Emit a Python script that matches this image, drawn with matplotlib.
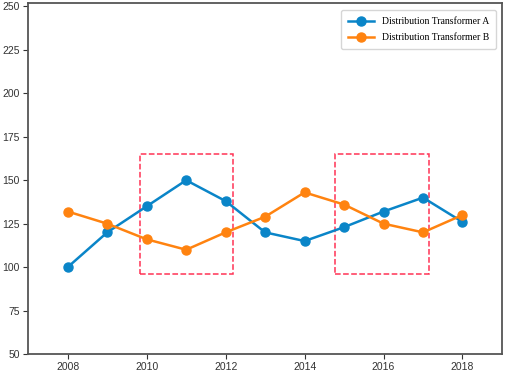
import matplotlib
matplotlib.use("Agg")
import matplotlib.pyplot as plt
from matplotlib.patches import Rectangle

years = [2008, 2009, 2010, 2011, 2012, 2013, 2014, 2015, 2016, 2017, 2018]
trans_a = [100, 120, 135, 150, 138, 120, 115, 123, 132, 140, 126]
trans_b = [132, 125, 116, 110, 120, 129, 143, 136, 125, 120, 130]
# highlighted windows: (x start, x end, y low, y high)
boxes = [(2009.84, 2012.19, 95.8, 165), (2014.77, 2017.15, 95.8, 165)]

fig = plt.figure(figsize=(5.05, 3.75), dpi=100)
ax = fig.add_axes([0.056, 0.056, 0.938, 0.936])

ax.plot(years, trans_a, '-o', color='#0a85c8', lw=1.8, ms=6.5, label="Distribution Transformer A")
ax.plot(years, trans_b, '-o', color='#ff8310', lw=1.8, ms=6.5, label="Distribution Transformer B")

for x0, x1, y0, y1 in boxes:
    ax.add_patch(Rectangle((x0, y0), x1 - x0, y1 - y0, fill=False,
                           ec='#ff3355', ls='--', lw=1.1))

ax.set_xlim(2007, 2019)
ax.set_ylim(50, 252)
ax.set_xticks(range(2008, 2019, 2))
ax.set_yticks(range(50, 251, 25))
ax.tick_params(labelsize=7.5, colors='#333333', length=3.5, pad=2.5)
for lab in ax.get_xticklabels() + ax.get_yticklabels():
    lab.set_family('Liberation Sans')
for s in ax.spines.values():
    s.set_color('#555555')
    s.set_linewidth(1.3)

ax.legend(loc='upper right', prop={'family': 'Liberation Serif', 'size': 7},
          borderpad=0.7, labelspacing=0.75, handlelength=2.7,
          bbox_to_anchor=(0.997, 0.993))

fig.savefig("out.png", dpi=100)
